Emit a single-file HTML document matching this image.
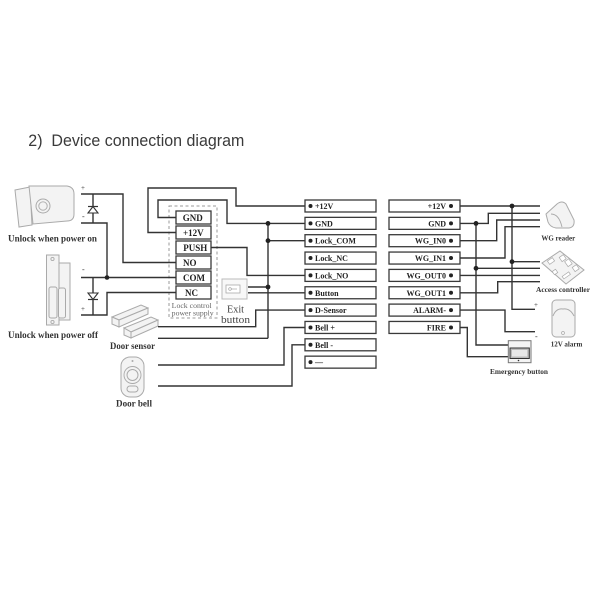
<!DOCTYPE html>
<html><head><meta charset="utf-8"><style>
html,body{margin:0;padding:0;background:#fff;}
svg{display:block;}
.w{fill:none;stroke:#333;stroke-width:1.4;}
.b{fill:#fff;stroke:#3a3a3a;stroke-width:1.3;}
.t{font-family:"Liberation Serif",serif;font-weight:bold;font-size:8px;fill:#222;}
.tr{font-family:"Liberation Serif",serif;font-weight:bold;font-size:8px;fill:#222;text-anchor:end;}
.pt{font-family:"Liberation Serif",serif;font-weight:bold;font-size:9px;fill:#222;}
.lb{font-family:"Liberation Serif",serif;font-weight:bold;fill:#333;}
.ic{fill:#f3f3f3;stroke:#aaa;stroke-width:1;}
.ic2{fill:none;stroke:#aaa;stroke-width:0.9;}
</style></head><body>
<svg width="600" height="600" viewBox="0 0 600 600" xmlns="http://www.w3.org/2000/svg">
<rect width="600" height="600" fill="#fff"/>
<text x="28.3" y="146" font-family="Liberation Sans, sans-serif" font-size="17" fill="#3a3a3a" textLength="216" lengthAdjust="spacingAndGlyphs">2)&#160; Device connection diagram</text>

<!-- Left lock 1 -->
<path class="ic" d="M15,190 L30,187 L32,225 L19,227 Z"/>
<path class="ic" d="M29,186 L67,186 Q74,187 74,194 L74,214 Q74,221 67,221 L33,224 Z"/>
<circle class="ic" cx="43" cy="206" r="7"/>
<circle class="ic2" cx="43" cy="206" r="4.2"/>
<text class="lb" x="8" y="241.5" font-size="9" textLength="89" lengthAdjust="spacingAndGlyphs">Unlock when power on</text>

<!-- Left lock 2 -->
<rect class="ic" x="46.5" y="255" width="12.5" height="70"/>
<rect class="ic" x="59" y="263" width="11" height="57"/>
<rect class="ic" x="49" y="287" width="8" height="31" rx="2"/>
<rect class="ic" x="58.5" y="288" width="7" height="30" rx="2"/>
<circle class="ic2" cx="52.5" cy="259" r="1.6"/>
<circle class="ic2" cx="52.5" cy="322" r="1.6"/>
<text class="lb" x="8" y="338" font-size="9" textLength="90" lengthAdjust="spacingAndGlyphs">Unlock when power off</text>

<!-- Door sensor -->
<path class="ic" d="M112,317 L141,305 L148,308 L119,320 Z"/>
<path class="ic" d="M119,320 L148,308 L148,314 L119,327 Z"/>
<path class="ic" d="M112,317 L119,320 L119,327 L112,324 Z"/>
<path class="ic" d="M124,328 L151,317 L158,320 L131,332 Z"/>
<path class="ic" d="M131,332 L158,320 L158,326 L131,338 Z"/>
<path class="ic" d="M124,328 L131,332 L131,338 L124,335 Z"/>
<text class="lb" x="110" y="349" font-size="9" textLength="45" lengthAdjust="spacingAndGlyphs">Door sensor</text>

<!-- Door bell -->
<rect class="ic" x="121" y="357" width="23" height="40" rx="9"/>
<circle class="ic2" cx="132.5" cy="375" r="8.5"/>
<circle class="ic" cx="132.5" cy="375" r="5.5"/>
<rect class="ic" x="127" y="386" width="11" height="6" rx="3"/>
<circle cx="132.5" cy="361" r="1" fill="#aaa"/>
<text class="lb" x="116" y="406.5" font-size="9" textLength="36" lengthAdjust="spacingAndGlyphs">Door bell</text>

<!-- Exit button -->
<rect x="222" y="279" width="25" height="20" fill="#f8f8f8" stroke="#bbb" stroke-width="1"/>
<rect x="226" y="285" width="14" height="8" fill="#fff" stroke="#aaa" stroke-width="0.8"/>
<circle cx="230" cy="289" r="1.3" fill="none" stroke="#999" stroke-width="0.6"/>
<line x1="231.3" y1="289" x2="237" y2="289" stroke="#999" stroke-width="0.6"/>
<text x="227" y="312.5" font-family="Liberation Serif, serif" font-size="10" fill="#444" textLength="17" lengthAdjust="spacingAndGlyphs">Exit</text>
<text x="221" y="323" font-family="Liberation Serif, serif" font-size="10" fill="#444" textLength="29" lengthAdjust="spacingAndGlyphs">button</text>

<!-- Power supply -->
<rect x="169" y="206" width="48" height="112" fill="none" stroke="#999" stroke-width="1" stroke-dasharray="3,2.5"/>
<rect class="b" x="176" y="211" width="35" height="13"/>
<rect class="b" x="176" y="226" width="35" height="13"/>
<rect class="b" x="176" y="241" width="35" height="13"/>
<rect class="b" x="176" y="256" width="35" height="13"/>
<rect class="b" x="176" y="271" width="35" height="13"/>
<rect class="b" x="176" y="286" width="35" height="13"/>
<text class="pt" x="182.7" y="220.8">GND</text>
<text class="pt" x="183" y="235.8">+12V</text>
<text class="pt" x="183.3" y="250.8">PUSH</text>
<text class="pt" x="183" y="265.8">NO</text>
<text class="pt" x="183" y="280.8">COM</text>
<text class="pt" x="185" y="295.8">NC</text>
<text x="171.7" y="308" font-family="Liberation Serif, serif" font-size="7.5" fill="#666" textLength="40" lengthAdjust="spacingAndGlyphs">Lock control</text>
<text x="171.7" y="315.5" font-family="Liberation Serif, serif" font-size="7.5" fill="#666" textLength="42" lengthAdjust="spacingAndGlyphs">power supply</text>

<!-- Wires left -->
<polyline class="w" points="81,194 123,194 123,262.5 176,262.5"/>
<polyline class="w" points="81,223 107,223 107,277.5"/>
<polyline class="w" points="81,277.5 176,277.5"/>
<polyline class="w" points="176,292.5 107,292.5 107,315 81,315"/>
<line class="w" x1="93" y1="194" x2="93" y2="223"/>
<line class="w" x1="93" y1="277.5" x2="93" y2="315"/>
<path d="M93,206.5 L88,213 L98,213 Z" fill="#fff" stroke="#333" stroke-width="1.1"/>
<line x1="88" y1="206.5" x2="98" y2="206.5" stroke="#333" stroke-width="1.2"/>
<path d="M88,293 L98,293 L93,299.5 Z" fill="#fff" stroke="#333" stroke-width="1.1"/>
<line x1="88" y1="299.5" x2="98" y2="299.5" stroke="#333" stroke-width="1.2"/>
<circle cx="107" cy="277.5" r="2.3" fill="#222"/>
<text x="81" y="190" font-family="Liberation Serif, serif" font-size="7" fill="#333">+</text>
<text x="82" y="219" font-family="Liberation Serif, serif" font-size="8" fill="#333">-</text>
<text x="82" y="272" font-family="Liberation Serif, serif" font-size="8" fill="#333">-</text>
<text x="81" y="311" font-family="Liberation Serif, serif" font-size="7" fill="#333">+</text>

<!-- Wires power box to middle -->
<polyline class="w" points="176,232.5 148,232.5 148,188 236,188 236,206 305,206"/>
<polyline class="w" points="176,217.5 158,217.5 158,200 227,200 227,223.4 305,223.4"/>
<polyline class="w" points="211,247.5 247,247.5 247,275.4 305,275.4"/>
<line class="w" x1="268" y1="223.4" x2="268" y2="338.3"/>
<line class="w" x1="268" y1="240.7" x2="305" y2="240.7"/>
<line class="w" x1="248" y1="287" x2="268" y2="287"/>
<line class="w" x1="248" y1="292.8" x2="305" y2="292.8"/>
<polyline class="w" points="158,326.7 255.7,326.7 255.7,310.1 305,310.1"/>
<line class="w" x1="158" y1="338.3" x2="268" y2="338.3"/>
<polyline class="w" points="158,365 284,365 284,327.5 305,327.5"/>
<polyline class="w" points="158,386 292,386 292,344.8 305,344.8"/>
<circle cx="268" cy="223.4" r="2.4" fill="#222"/>
<circle cx="268" cy="240.7" r="2.4" fill="#222"/>
<circle cx="268" cy="287" r="2.4" fill="#222"/>

<!-- Middle block -->
<g>
<rect class="b" x="305" y="200" width="71" height="12"/>
<rect class="b" x="305" y="217.35" width="71" height="12"/>
<rect class="b" x="305" y="234.7" width="71" height="12"/>
<rect class="b" x="305" y="252.05" width="71" height="12"/>
<rect class="b" x="305" y="269.4" width="71" height="12"/>
<rect class="b" x="305" y="286.75" width="71" height="12"/>
<rect class="b" x="305" y="304.1" width="71" height="12"/>
<rect class="b" x="305" y="321.45" width="71" height="12"/>
<rect class="b" x="305" y="338.8" width="71" height="12"/>
<rect class="b" x="305" y="356.15" width="71" height="12"/>
<g fill="#222">
<circle cx="310.5" cy="206" r="2"/>
<circle cx="310.5" cy="223.35" r="2"/>
<circle cx="310.5" cy="240.7" r="2"/>
<circle cx="310.5" cy="258.05" r="2"/>
<circle cx="310.5" cy="275.4" r="2"/>
<circle cx="310.5" cy="292.75" r="2"/>
<circle cx="310.5" cy="310.1" r="2"/>
<circle cx="310.5" cy="327.45" r="2"/>
<circle cx="310.5" cy="344.8" r="2"/>
<circle cx="310.5" cy="362.15" r="2"/>
</g>
<text class="t" x="315" y="209">+12V</text>
<text class="t" x="315" y="226.35">GND</text>
<text class="t" x="315" y="243.7">Lock_COM</text>
<text class="t" x="315" y="261.05">Lock_NC</text>
<text class="t" x="315" y="278.4">Lock_NO</text>
<text class="t" x="315" y="295.75">Button</text>
<text class="t" x="315" y="313.1">D-Sensor</text>
<text class="t" x="315" y="330.45">Bell +</text>
<text class="t" x="315" y="347.8">Bell -</text>
<text class="t" x="315" y="365.15">—</text>
</g>

<!-- Right block -->
<g>
<rect class="b" x="389" y="200" width="71" height="12"/>
<rect class="b" x="389" y="217.35" width="71" height="12"/>
<rect class="b" x="389" y="234.7" width="71" height="12"/>
<rect class="b" x="389" y="252.05" width="71" height="12"/>
<rect class="b" x="389" y="269.4" width="71" height="12"/>
<rect class="b" x="389" y="286.75" width="71" height="12"/>
<rect class="b" x="389" y="304.1" width="71" height="12"/>
<rect class="b" x="389" y="321.45" width="71" height="12"/>
<g fill="#222">
<circle cx="451" cy="206" r="2"/>
<circle cx="451" cy="223.35" r="2"/>
<circle cx="451" cy="240.7" r="2"/>
<circle cx="451" cy="258.05" r="2"/>
<circle cx="451" cy="275.4" r="2"/>
<circle cx="451" cy="292.75" r="2"/>
<circle cx="451" cy="310.1" r="2"/>
<circle cx="451" cy="327.45" r="2"/>
</g>
<text class="tr" x="446" y="209">+12V</text>
<text class="tr" x="446" y="226.35">GND</text>
<text class="tr" x="446" y="243.7">WG_IN0</text>
<text class="tr" x="446" y="261.05">WG_IN1</text>
<text class="tr" x="446" y="278.4">WG_OUT0</text>
<text class="tr" x="446" y="295.75">WG_OUT1</text>
<text class="tr" x="446" y="313.1">ALARM-</text>
<text class="tr" x="446" y="330.45">FIRE</text>
</g>

<!-- Wires right -->
<line class="w" x1="460" y1="206" x2="540" y2="206"/>
<polyline class="w" points="512,206 512,309.3 535,309.3"/>
<line class="w" x1="512" y1="261.7" x2="540" y2="261.7"/>
<polyline class="w" points="460,223.4 488.3,223.4 488.3,213.3 540,213.3"/>
<polyline class="w" points="476,223.4 476,345 508,345"/>
<line class="w" x1="476" y1="268.3" x2="540" y2="268.3"/>
<polyline class="w" points="460,240.7 496.7,240.7 496.7,220 540,220"/>
<polyline class="w" points="460,258 505,258 505,226.7 540,226.7"/>
<line class="w" x1="460" y1="275.4" x2="540" y2="275.4"/>
<polyline class="w" points="460,292.8 497.7,292.8 497.7,281.7 540,281.7"/>
<polyline class="w" points="460,310.1 505,310.1 505,331.7 535,331.7"/>
<polyline class="w" points="460,327.5 467.3,327.5 467.3,356.7 508,356.7"/>
<circle cx="512" cy="206" r="2.4" fill="#222"/>
<circle cx="512" cy="261.7" r="2.4" fill="#222"/>
<circle cx="476" cy="223.4" r="2.4" fill="#222"/>
<circle cx="476" cy="268.3" r="2.4" fill="#222"/>
<text x="534" y="307" font-family="Liberation Serif, serif" font-size="7" fill="#333">+</text>
<text x="535" y="339" font-family="Liberation Serif, serif" font-size="8" fill="#333">-</text>

<!-- WG reader -->
<path class="ic" d="M546,214 L557,204 Q562,200 566,204 L574,220 Q575,227 569,228 L556,228 Q550,227 548,222 Z"/>
<path class="ic2" d="M551,214 Q559,214 562,227"/>
<text class="lb" x="558.3" y="240.5" font-size="7" text-anchor="middle">WG reader</text>

<!-- Access controller -->
<path class="ic" d="M542,263 L560,251 L584,270 L566,284 Z"/>
<g fill="#fff" stroke="#aaa" stroke-width="0.7">
<rect x="548" y="259" width="6" height="4" transform="rotate(-35 551 261)"/>
<rect x="560" y="256" width="5" height="5" transform="rotate(-35 562 258)"/>
<rect x="566" y="260" width="5" height="6" transform="rotate(-35 568 263)"/>
<rect x="573" y="266" width="5" height="5" transform="rotate(-35 575 268)"/>
<rect x="562" y="274" width="8" height="3" transform="rotate(-35 566 275)"/>
<rect x="553" y="270" width="4" height="4" transform="rotate(-35 555 272)"/>
</g>
<text class="lb" x="536" y="292" font-size="7.5" textLength="54" lengthAdjust="spacingAndGlyphs">Access controller</text>

<!-- 12V alarm -->
<rect class="ic" x="552" y="300" width="23" height="37" rx="4" fill="#f7f7f7"/>
<path class="ic2" d="M553,316 Q556,308 563,309 Q570,308 574,316"/>
<circle cx="563" cy="333" r="1.5" fill="none" stroke="#aaa" stroke-width="0.7"/>
<text class="lb" x="566.5" y="346.5" font-size="7" text-anchor="middle">12V alarm</text>

<!-- Emergency button -->
<rect x="508.3" y="340.7" width="22.7" height="22" fill="#f4f4f4" stroke="#777" stroke-width="1"/>
<rect x="510" y="348" width="19.3" height="10.5" fill="#bbb" stroke="#333" stroke-width="1"/>
<rect x="512" y="350" width="15.3" height="6.5" fill="#e8e8e8" stroke="none"/>
<circle cx="518.5" cy="360.5" r="0.8" fill="#333"/>
<text class="lb" x="490" y="374" font-size="7.5" textLength="58" lengthAdjust="spacingAndGlyphs">Emergency button</text>
</svg>
</body></html>
